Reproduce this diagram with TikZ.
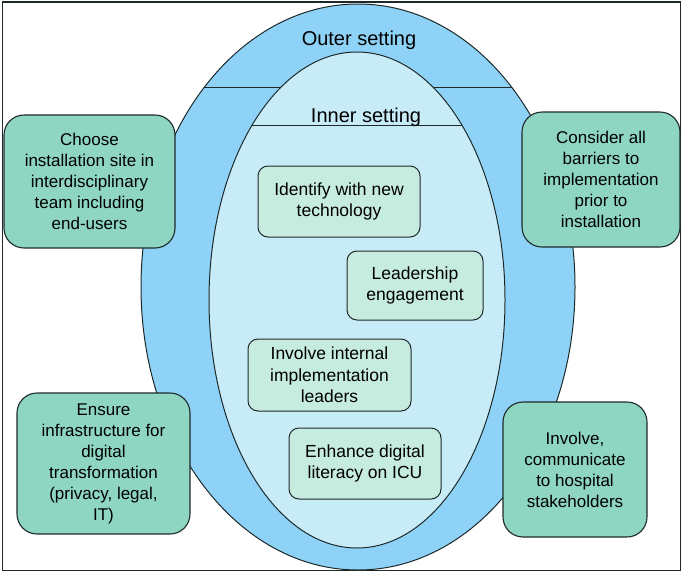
\documentclass[tikz,border=0pt]{standalone}
\usepackage{fontspec}
\setmainfont{Liberation Sans}
\definecolor{ringblue}{HTML}{8ED3F7}
\definecolor{innerblue}{HTML}{C7ECF8}
\definecolor{boxgreen}{HTML}{8ED6C1}
\definecolor{lightgreen}{HTML}{C6EBDF}
\definecolor{edgecol}{HTML}{1E2A2A}
\tikzset{
  outerbox/.style={draw=edgecol, line width=1.1pt, fill=boxgreen, rounded corners=20pt,
    align=center, inner sep=0pt, font=\fontsize{17}{21}\selectfont},
  innerbox/.style={draw=edgecol, line width=1pt, fill=lightgreen, rounded corners=10pt,
    align=center, inner sep=0pt, font=\fontsize{17.5}{21.5}\selectfont},
  ringline/.style={draw=edgecol, line width=1pt},
  settinglabel/.style={font=\fontsize{20}{24}\selectfont, inner sep=0pt}
}
\begin{document}
\begin{tikzpicture}[x=1pt,y=-1pt]
\useasboundingbox (0,0) rectangle (685,576);
% frame
\draw[draw=edgecol, line width=1.6pt] (2.5,2) rectangle (680.5,570.5);
% outer ellipse
\draw[ringline, fill=ringblue] (358,287) ellipse [x radius=217pt, y radius=283pt];
\begin{scope}
  \clip (358,287) ellipse [x radius=217pt, y radius=283pt];
  \draw[ringline] (100,87) -- (650,87);
\end{scope}
% inner ellipse
\draw[ringline, fill=innerblue] (357,300) ellipse [x radius=148pt, y radius=248pt];
\begin{scope}
  \clip (357,300) ellipse [x radius=148pt, y radius=248pt];
  \draw[ringline] (100,125.5) -- (650,125.5);
\end{scope}
\node[settinglabel, anchor=base] (outerlbl) at (359,45.5) {Outer setting};
\node[settinglabel, anchor=base] (innerlbl) at (366,122.5) {Inner setting};
% outer boxes
\node[outerbox, minimum width=171pt, minimum height=133pt] (choose) at (89.5,181.5)
  {Choose\\installation site in\\interdisciplinary\\team including\\end-users};
\node[outerbox, minimum width=173pt, minimum height=141pt] (ensure) at (103.5,463.5)
  {Ensure\\infrastructure for\\digital\\transformation\\(privacy, legal,\\IT)};
\node[outerbox, minimum width=158pt, minimum height=135pt] (consider) at (601,179.5)
  {Consider all\\barriers to\\implementation\\prior to\\installation};
\node[outerbox, minimum width=144pt, minimum height=135pt] (communicate) at (575,469.5)
  {Involve,\\communicate\\to hospital\\stakeholders};
% inner boxes
\node[innerbox, minimum width=162pt, minimum height=71pt] (identify) at (339,201.5)
  {Identify with new\\technology};
\node[innerbox, minimum width=136pt, minimum height=69pt] (leadership) at (415,285.5)
  {Leadership\\engagement};
\node[innerbox, minimum width=163pt, minimum height=72pt] (internal) at (329.5,375)
  {Involve internal\\implementation\\leaders};
\node[innerbox, minimum width=152pt, minimum height=71pt] (literacy) at (365,463.5)
  {Enhance digital\\literacy on ICU};
\end{tikzpicture}
\end{document}
